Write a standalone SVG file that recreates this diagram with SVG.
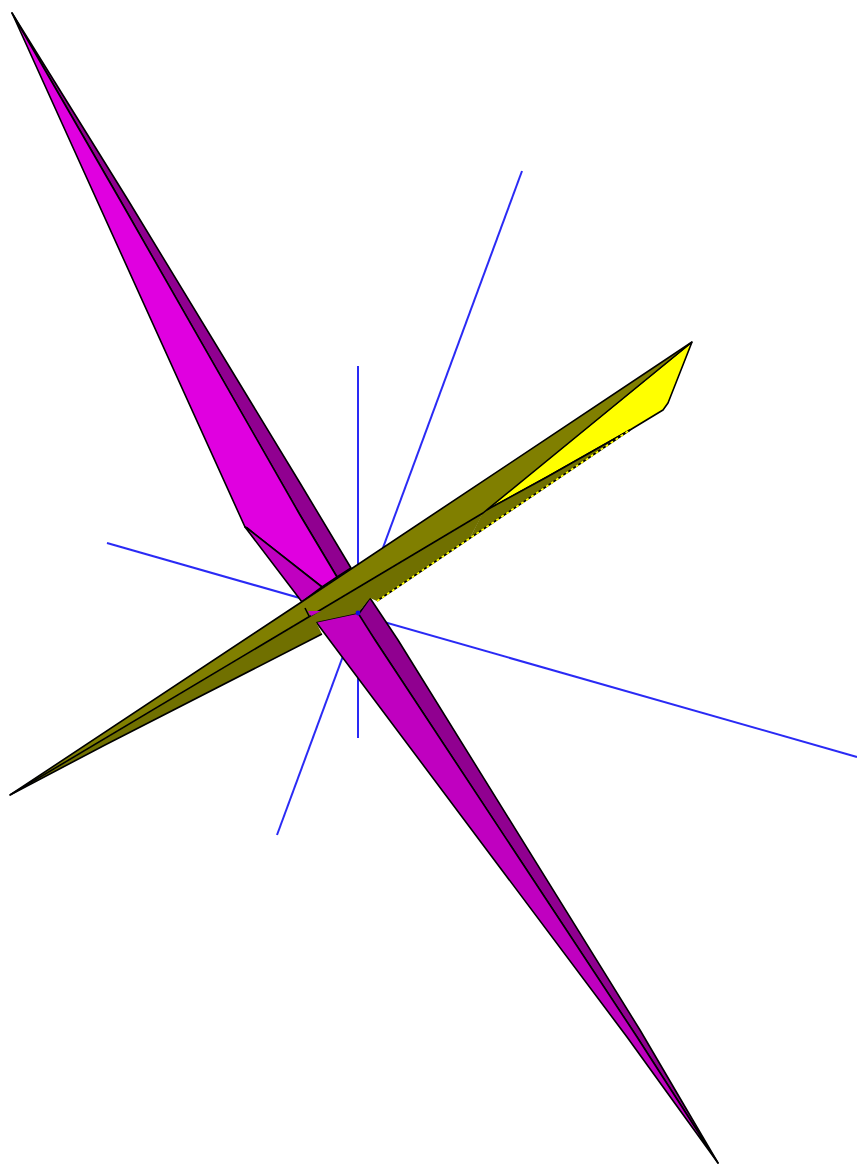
<svg xmlns="http://www.w3.org/2000/svg" width="857" height="1164" viewBox="0 0 857 1164">
<defs><filter id="soft" x="0" y="0" width="857" height="1164" filterUnits="userSpaceOnUse"><feGaussianBlur stdDeviation="0.45"/></filter></defs>
<style>
.axis{stroke:#2a2af5;stroke-width:2;fill:none}
.f{stroke:#000;stroke-width:1.6;stroke-linejoin:round}
.l{stroke:#000;stroke-width:1.6;fill:none;stroke-linejoin:round}
</style>
<rect width="857" height="1164" fill="#fff"/>
<g filter="url(#soft)">
<g id="axes">
<line class="axis" x1="358" y1="366" x2="358" y2="738"/>
<line class="axis" x1="522" y1="171" x2="277" y2="835"/>
<line class="axis" x1="107" y1="543" x2="857" y2="757"/>
</g>
<g id="magenta-blade">
<polygon class="f" fill="#900090" points="12,13 128,200 300,483 351,568 337,577 300,515 120,200"/>
<polygon class="f" fill="#e000e0" points="12,13 120,200 300,515 337,577 322,587 247,528 245,527"/>
<polygon class="f" fill="#c000c0" points="245,527 247,528 322,587 302,602"/>
<polygon class="f" fill="#900090" points="358,615 370,598 398,640 640,1030 718,1163 637,1037 375,640"/>
<polygon class="f" fill="#c000c0" points="316,622 358,613 375,640 637,1037 718,1163 627,1037"/>
</g>
<g id="olive-blade">
<polygon class="f" fill="#ffff00" points="692,342 668,403 663,410 630,430 547,477 483,512"/>
<polygon fill="#6f6f00" points="483,512 547,477 630,430 470,538"/>
<polyline class="l" points="483,512 547,477 630,430"/>
<polygon fill="#807f00" points="10,795 300,603 692,342 483,513"/>
<polygon fill="#6f6f00" points="10,795 483,513 470,538 377,601 370,598 358,613 316,622 322,634 105,745"/>
<polyline class="l" points="692,342 300,603 10,795 105,745 322,634"/>
<polyline class="l" points="10,795 483,513 692,342"/>
<line x1="377" y1="601" x2="630" y2="430" stroke="#000" stroke-width="1.6"/>
<line x1="377" y1="601" x2="630" y2="430" stroke="#ffff00" stroke-width="1.8" stroke-dasharray="3 3"/>
<polygon fill="#c000c0" points="308,611 321,611 311,616"/>
<line class="l" x1="305" y1="608" x2="309" y2="616"/>
<circle cx="358" cy="613" r="2.4" fill="#1010e0"/>
</g>
</g>
</svg>
